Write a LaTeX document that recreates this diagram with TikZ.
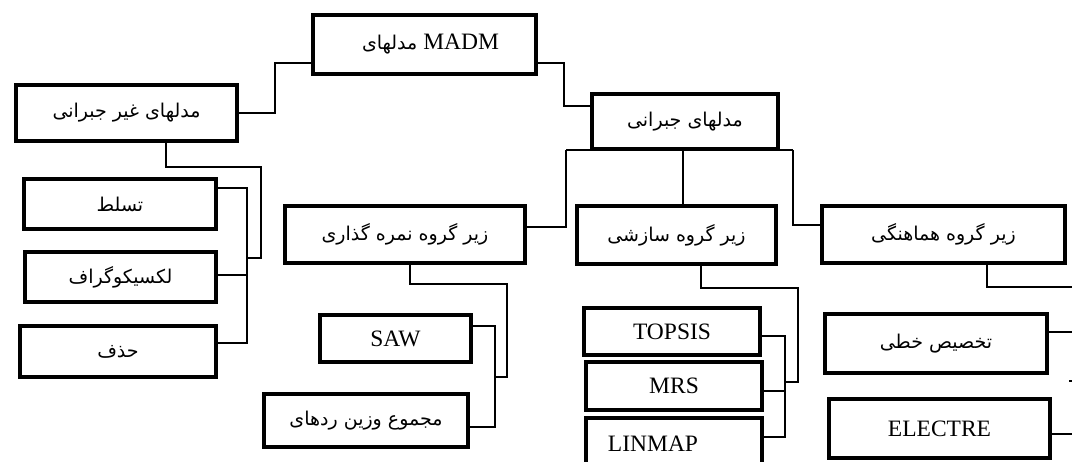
\documentclass[tikz,border=0pt]{standalone}
\usepackage{fontspec}
\setmainfont{Liberation Serif}
\newfontfamily\fa[Script=Arabic]{DejaVu Sans}
\TeXXeTstate=1
\newcommand{\fat}[1]{{\fa\fontsize{19}{22}\selectfont\beginR #1\endR}}
\begin{document}
\begin{tikzpicture}[x=1pt,y=-1pt,
  box/.style={draw,line width=4pt,inner sep=0pt,fill=white,font=\fontsize{23.5}{26}\selectfont},
  conn/.style={line width=1.5pt}]
\clip (0,0) rectangle (1072,462);
\fill[white] (0,0) rectangle (1072,462);
% boxes (center, outer size minus line width)
\node[box,minimum width=223,minimum height=59] (madm) at (424.5,44.5) {\hspace*{12pt}\fat{مدلهای} MADM};
\node[box,minimum width=221,minimum height=56] (nonc) at (126.5,113) {\fat{مدلهای غیر جبرانی}};
\node[box,minimum width=186,minimum height=55] (comp) at (685,121.5) {\fat{مدلهای جبرانی}};
\node[box,minimum width=240,minimum height=57] (score) at (405,234.5) {\fat{زیر گروه نمره گذاری}};
\node[box,minimum width=199,minimum height=58] (struct) at (676.5,235) {\fat{زیر گروه سازشی}};
\node[box,minimum width=243,minimum height=57] (harm) at (943.5,234.5) {\fat{زیر گروه هماهنگی}};
\node[box,minimum width=192,minimum height=50] (tas) at (120,204) {\fat{تسلط}};
\node[box,minimum width=191,minimum height=50] (lex) at (120.5,277) {\fat{لکسیکوگراف}};
\node[box,minimum width=196,minimum height=51] (haz) at (118,351.5) {\fat{حذف}};
\node[box,minimum width=151,minimum height=47] (saw) at (395.5,338.5) {SAW};
\node[box,minimum width=204,minimum height=53] (majm) at (366,420.5) {\fat{مجموع وزین ردهای}};
\node[box,minimum width=176,minimum height=47] (topsis) at (672,331.5) {TOPSIS};
\node[box,minimum width=176,minimum height=48] (mrs) at (674,386) {MRS};
\node[box,minimum width=176,minimum height=51] (linmap) at (674,443.5) {LINMAP\hspace*{42pt}};
\node[box,minimum width=222,minimum height=59] (takh) at (936,343.5) {\fat{تخصیص خطی}};
\node[box,minimum width=221,minimum height=59] (elec) at (939.5,428.5) {ELECTRE};
% connectors: top level
\draw[conn] (madm.west |- 0,63) -- (275,63) |- (nonc.east);
\draw[conn] (madm.east |- 0,63) -- (564,63) |- (comp.west |- 0,106);
% non-compensatory branch
\coordinate (nb) at (247,258);
\draw[conn] (nonc.south -| 166,0) |- (261,167) |- (nb);
\draw[conn] (tas.east |- 0,188) -- (247,188) -- (247,343) -- (haz.east |- 0,343);
\draw[conn] (lex.east |- 0,275) -- (247,275);
% compensatory branches
\draw[conn] (566,150) -- (793,150);
\draw[conn] (566,150) |- (score.east |- 0,227);
\draw[conn] (comp.south -| 683,0) -- (struct.north -| 683,0);
\draw[conn] (793,150) |- (harm.west |- 0,225);
% scoring subgroup
\draw[conn] (score.south -| 410,0) |- (507,284) |- (495,377);
\draw[conn] (saw.east |- 0,326) -- (495,326) -- (495,427) -- (majm.east |- 0,427);
% structure subgroup
\draw[conn] (struct.south -| 701,0) |- (798,288) |- (785,382);
\draw[conn] (topsis.east |- 0,336) -- (785,336) -- (785,437) -- (linmap.east |- 0,437);
\draw[conn] (mrs.east |- 0,391) -- (785,391);
% harmony subgroup
\draw[conn] (harm.south -| 987,0) |- (1085,287) |- (1069,381);
\draw[conn] (takh.east |- 0,332) -- (1074,332) -- (1074,434) -- (elec.east |- 0,434);
\end{tikzpicture}
\end{document}
